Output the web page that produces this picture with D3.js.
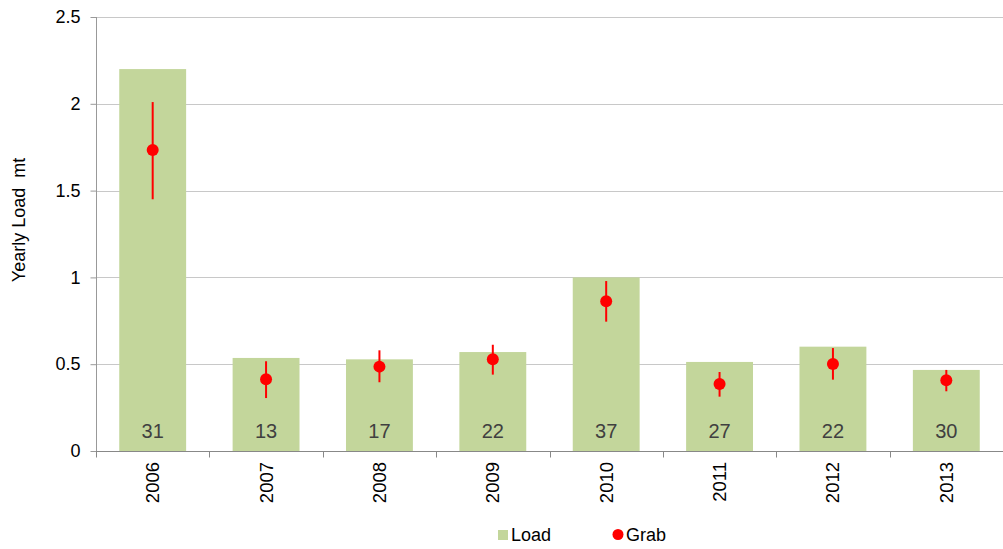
<!DOCTYPE html>
<html><head><meta charset="utf-8">
<script src="https://cdn.jsdelivr.net/npm/d3@7"></script>
<style>
html,body{margin:0;padding:0;background:#fff;}
svg{display:block;font-family:"Liberation Sans",Arial,sans-serif;}
</style></head>
<body>
<svg id="chart" width="1003" height="549"></svg>
<script>
const years = ["2006","2007","2008","2009","2010","2011","2012","2013"];
const loadValues = [2.2, 0.536, 0.528, 0.57, 1.0, 0.513, 0.601, 0.467];
const grabValues = [1.734, 0.413, 0.486, 0.528, 0.862, 0.386, 0.501, 0.407];
const grabLow = [1.45, 0.305, 0.396, 0.44, 0.745, 0.313, 0.411, 0.344];
const grabHigh = [2.01, 0.517, 0.58, 0.612, 0.979, 0.455, 0.593, 0.467];
const counts = [31, 13, 17, 22, 37, 27, 22, 30];
const yTicks = [0, 0.5, 1, 1.5, 2, 2.5];
const yTickLabels = ["0","0.5","1","1.5","2","2.5"];

const svg = d3.select("#chart");
const m = {left: 96, right: 0, top: 17, bottom: 98};
const W = 1003, H = 549;
const x = d3.scaleBand().domain(years).range([m.left, W - m.right]).paddingInner(0.41).paddingOuter(0.205);
const y = d3.scaleLinear().domain([0, 2.5]).range([H - m.bottom, m.top]);

// gridlines
svg.append("g").selectAll("line").data(yTicks.filter(d => d > 0)).join("line")
  .attr("x1", m.left).attr("x2", W - m.right)
  .attr("y1", d => Math.round(y(d)) + 0.5).attr("y2", d => Math.round(y(d)) + 0.5)
  .attr("stroke", "#c8c8c8").attr("stroke-width", 1);

// bars
svg.append("g").selectAll("rect").data(years).join("rect")
  .attr("x", d => x(d)).attr("width", x.bandwidth())
  .attr("y", (d, i) => y(loadValues[i]))
  .attr("height", (d, i) => y(0) - y(loadValues[i]))
  .attr("fill", "#c3d69b");

// counts
svg.append("g").selectAll("text").data(years).join("text")
  .attr("x", d => x(d) + x.bandwidth() / 2).attr("y", y(0) - 13)
  .attr("text-anchor", "middle").attr("font-size", 20).attr("fill", "#404040")
  .text((d, i) => counts[i]);

// error bars
svg.append("g").selectAll("line").data(years).join("line")
  .attr("x1", d => x(d) + x.bandwidth() / 2).attr("x2", d => x(d) + x.bandwidth() / 2)
  .attr("y1", (d, i) => y(grabLow[i])).attr("y2", (d, i) => y(grabHigh[i]))
  .attr("stroke", "#ff0000").attr("stroke-width", 2);

svg.append("g").selectAll("circle").data(years).join("circle")
  .attr("cx", d => x(d) + x.bandwidth() / 2).attr("cy", (d, i) => y(grabValues[i]))
  .attr("r", 6).attr("fill", "#ff0000");

// y axis
const yAxis = d3.axisLeft(y).tickValues(yTicks).tickFormat((d, i) => yTickLabels[i]).tickSize(6).tickPadding(10);
const gy = svg.append("g").attr("transform", `translate(${m.left + 0.5},0)`).call(yAxis);
gy.select(".domain").attr("stroke", "#999").attr("d", `M0,${y(2.5)}V${y(0)}`);
gy.selectAll(".tick line").attr("stroke", "#999");
gy.selectAll(".tick text").attr("font-size", 18).attr("fill", "#000").attr("font-family", "Liberation Sans, Arial, sans-serif");

// x axis
const bottomY = Math.round(y(0)) + 0.5;
svg.append("line").attr("x1", m.left).attr("x2", W).attr("y1", bottomY).attr("y2", bottomY).attr("stroke", "#888");
const step = x.step();
svg.append("g").selectAll("line").data(d3.range(years.length + 1)).join("line")
  .attr("x1", i => Math.round(m.left + i * step) + 0.5).attr("x2", i => Math.round(m.left + i * step) + 0.5)
  .attr("y1", bottomY).attr("y2", bottomY + 6).attr("stroke", "#888");

svg.append("g").selectAll("text").data(years).join("text")
  .attr("transform", d => `translate(${x(d) + x.bandwidth() / 2 + 6.5},462) rotate(-90)`)
  .attr("text-anchor", "end").attr("font-size", 18.5).attr("fill", "#000")
  .text(d => d);

// y title
svg.append("text").attr("transform", "translate(25,220) rotate(-90)")
  .attr("text-anchor", "middle").attr("font-size", 18).attr("fill", "#000")
  .attr("xml:space", "preserve").style("white-space", "pre")
  .text("Yearly Load  mt");

// legend
const lg = svg.append("g");
lg.append("rect").attr("x", 498).attr("y", 530).attr("width", 10).attr("height", 10).attr("fill", "#c3d69b");
lg.append("text").attr("x", 511).attr("y", 541).attr("font-size", 18).attr("fill", "#000").text("Load");
lg.append("circle").attr("cx", 618).attr("cy", 534.5).attr("r", 5.5).attr("fill", "#ff0000");
lg.append("text").attr("x", 626).attr("y", 541).attr("font-size", 18).attr("fill", "#000").text("Grab");
</script>
</body></html>
